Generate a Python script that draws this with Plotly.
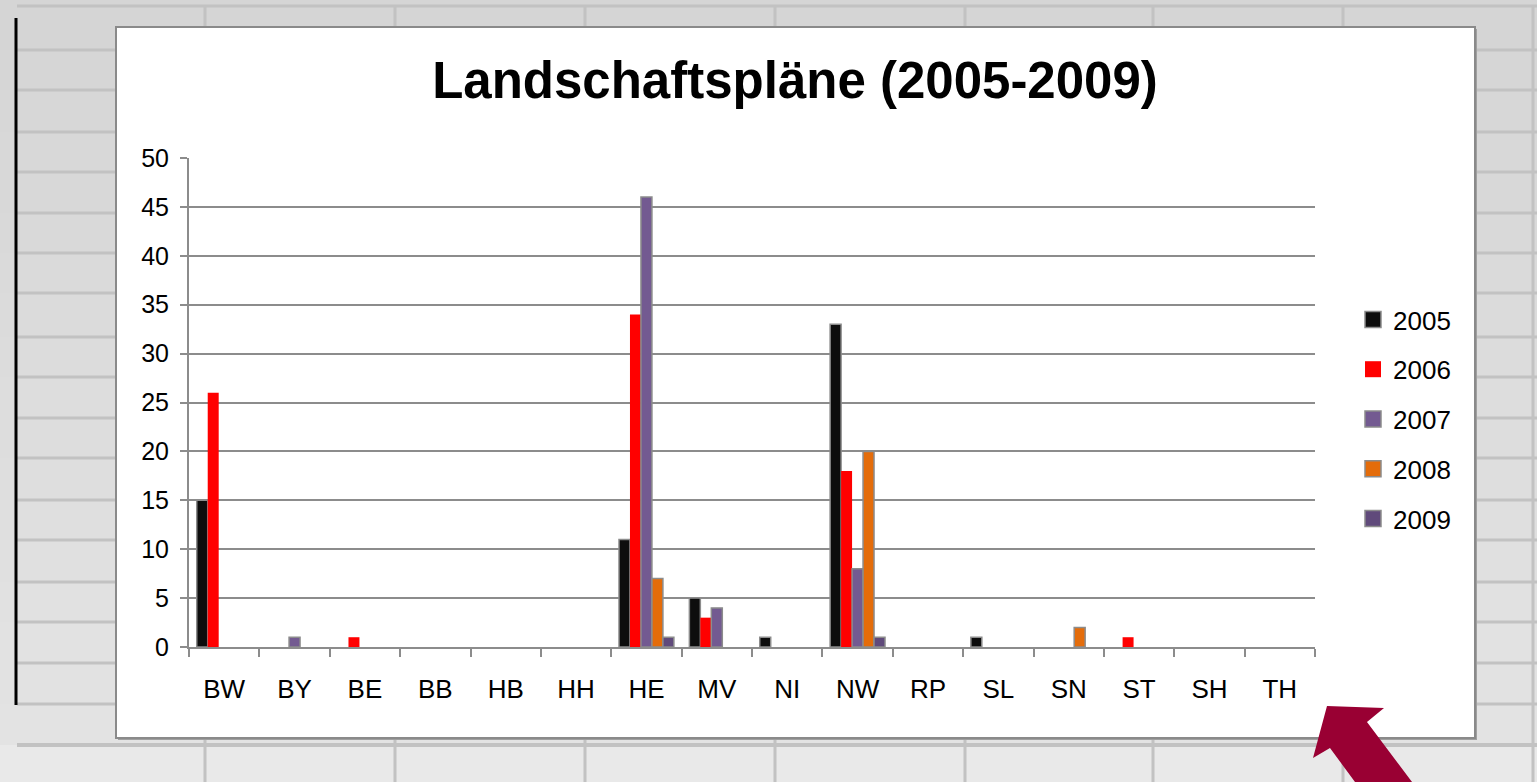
import plotly.graph_objects as go

# ---------------- data ----------------
categories = ["BW", "BY", "BE", "BB", "HB", "HH", "HE", "MV", "NI", "NW",
              "RP", "SL", "SN", "ST", "SH", "TH"]
years = ["2005", "2006", "2007", "2008", "2009"]
v2005 = [15, 0, 0, 0, 0, 0, 11, 5, 1, 33, 0, 1, 0, 0, 0, 0]
v2006 = [26, 0, 1, 0, 0, 0, 34, 3, 0, 18, 0, 0, 0, 1, 0, 0]
v2007 = [0, 1, 0, 0, 0, 0, 46, 4, 0, 8, 0, 0, 0, 0, 0, 0]
v2008 = [0, 0, 0, 0, 0, 0, 7, 0, 0, 20, 0, 0, 2, 0, 0, 0]
v2009 = [0, 0, 0, 0, 0, 0, 1, 0, 0, 1, 0, 0, 0, 0, 0, 0]
y_ticks = [0, 5, 10, 15, 20, 25, 30, 35, 40, 45, 50]
title_text = "Landschaftspläne (2005-2009)"

series = [v2005, v2006, v2007, v2008, v2009]
colors = ["#0d0d0d", "#ff0000", "#735a91", "#e46c0a", "#604a7b"]
outline = ["#8c8c8c", "rgba(0,0,0,0)", "#8c8c8c", "#8c8c8c", "#8c8c8c"]

# ---------------- geometry (pixels) ----------------
W, H = 1537, 782
PL, PR, PT, PB = 189, 1315, 158, 647


def px(x):
    return (x - PL) / (PR - PL)


def py(y):
    return (PB - y) / (PB - PT)


FONT = "Liberation Sans, Arial, sans-serif"

fig = go.Figure()
for name, vals, col, oc in zip(years, series, colors, outline):
    fig.add_trace(go.Bar(
        x=categories, y=vals, name=name, showlegend=False,
        marker=dict(color=col,
                    line=dict(color=oc, width=[1.5 if v else 0 for v in vals])),
    ))
# legend entries (square swatches)
for name, col, oc in zip(years, colors, outline):
    fig.add_trace(go.Scatter(
        x=[None], y=[None], mode="markers", name=name, legendgroup=name,
        marker=dict(symbol="square", size=16, color=col,
                    line=dict(color=oc, width=1.5)),
    ))

# ---------------- spreadsheet background ----------------
shapes = []
row_lines = [6, 50, 90, 132, 172, 213, 253, 293, 337, 377, 418, 458, 500,
             540, 582, 622, 663, 704, 745]
col_lines = [205, 395, 585, 775, 965, 1153, 1343, 1533]


def mix(t):
    a, b = 0xd5, 0xe4
    c = int(round(a + (b - a) * t))
    return "#%02x%02x%02x" % (c, c, c)


bands = [0] + row_lines + [W]
for i in range(len(bands) - 1):
    y0, y1 = bands[i], bands[i + 1]
    t = min(1.0, y0 / 745.0)
    col = "#e9e9e9" if y0 >= 745 else mix(t)
    shapes.append(dict(type="rect", xref="paper", yref="paper",
                       x0=px(0), x1=px(W), y0=py(y0), y1=py(y1),
                       fillcolor=col, line=dict(width=0), layer="below"))
for y in row_lines:
    shapes.append(dict(type="line", xref="paper", yref="paper",
                       x0=px(17), x1=px(W), y0=py(y), y1=py(y),
                       line=dict(color="#c2c2c2", width=4 if y == 745 else 3),
                       layer="below"))
for x in col_lines:
    shapes.append(dict(type="line", xref="paper", yref="paper",
                       x0=px(x), x1=px(x), y0=py(6), y1=py(W),
                       line=dict(color="#c2c2c2", width=3), layer="below"))
shapes.append(dict(type="line", xref="paper", yref="paper",
                   x0=px(16), x1=px(16), y0=py(18), y1=py(705),
                   line=dict(color="#000000", width=3), layer="below"))
# chart area with shadow
shapes.append(dict(type="rect", xref="paper", yref="paper",
                   x0=px(118), x1=px(1477), y0=py(29), y1=py(740),
                   fillcolor="#a0a0a0", line=dict(width=0), layer="below"))
shapes.append(dict(type="rect", xref="paper", yref="paper",
                   x0=px(116), x1=px(1475), y0=py(27), y1=py(738),
                   fillcolor="#ffffff", line=dict(color="#8a8a8a", width=2),
                   layer="below"))
# arrow
pts = [(1327, 706), (1384, 708), (1367, 722), (1412, 782), (1355, 782),
       (1330, 748), (1313, 758)]
path = "M " + " L ".join("%.5f,%.5f" % (px(x), py(y)) for x, y in pts) + " Z"
shapes.append(dict(type="path", xref="paper", yref="paper", path=path,
                   fillcolor="#990033", line=dict(width=0), layer="above"))

fig.update_layout(
    width=W, height=H,
    margin=dict(l=PL, r=W - PR, t=PT, b=H - PB, pad=0),
    paper_bgcolor="#d9d9d9",
    plot_bgcolor="rgba(0,0,0,0)",
    barmode="group", bargap=0.22, bargroupgap=0,
    font=dict(family=FONT, color="#000000"),
    title=dict(text=title_text, x=795 / W, xanchor="center",
               y=1 - 80 / H, yanchor="middle", yref="container",
               font=dict(family=FONT, size=51, color="#000000", weight="bold")),
    xaxis=dict(type="category", categoryorder="array", categoryarray=categories,
               tickson="boundaries", ticks="outside", ticklen=8, tickwidth=2,
               tickcolor="#8c8c8c", showline=True, linecolor="#8c8c8c",
               linewidth=2, showgrid=False, tickfont=dict(size=26),
               ticklabelstandoff=18, fixedrange=True),
    yaxis=dict(range=[0, 50], tickvals=y_ticks, ticks="outside", ticklen=7,
               tickwidth=2, tickcolor="#8c8c8c", showline=True,
               linecolor="#8c8c8c", linewidth=2, showgrid=True,
               gridcolor="#8c8c8c", gridwidth=1.5, zeroline=False,
               tickfont=dict(size=25), ticklabelstandoff=6, fixedrange=True),
    legend=dict(x=px(1353), xanchor="left", y=py(296), yanchor="top",
                bgcolor="rgba(0,0,0,0)", font=dict(size=26),
                tracegroupgap=13, itemclick=False, itemdoubleclick=False),
    shapes=shapes,
)

fig.write_html("out.html",
               config={"displayModeBar": False},
               post_script="document.body.style.margin='0px';"
                           "document.body.style.overflow='hidden';")
